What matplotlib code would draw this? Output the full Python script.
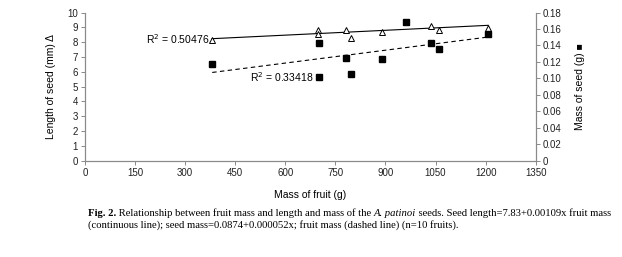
import matplotlib
matplotlib.use("Agg")
import matplotlib.pyplot as plt
import numpy as np

# data
fruit_mass = [381, 698, 698, 782, 797, 889, 963, 1037, 1061, 1208]
seed_length = [8.14, 8.8, 8.53, 8.82, 8.3, 8.68, 9.36, 9.09, 8.82, 8.93]
seed_mass_x = [381, 700, 700, 782, 797, 889, 963, 1037, 1061, 1208]
seed_mass = [0.118, 0.1426, 0.102, 0.125, 0.105, 0.124, 0.168, 0.143, 0.136, 0.1535]

x_ticks = list(range(0, 1351, 150))
left_ticks = list(range(0, 11))
right_ticks = [0, 0.02, 0.04, 0.06, 0.08, 0.10, 0.12, 0.14, 0.16, 0.18]
right_labels = ["0", "0.02", "0.04", "0.06", "0.08", "0.10", "0.12", "0.14", "0.16", "0.18"]

caption1 = [("Fig. 2.", "bold", "normal"),
            (" Relationship between fruit mass and length and mass of the ", "normal", "normal"),
            ("A. patinoi", "normal", "italic"),
            (" seeds. Seed length=7.83+0.00109x fruit mass", "normal", "normal")]
caption2 = "(continuous line); seed mass=0.0874+0.000052x; fruit mass (dashed line) (n=10 fruits)."

plt.rcParams['font.family'] = ['Liberation Sans', 'DejaVu Sans']
axis_col = "#8a8a8a"

fig = plt.figure(figsize=(6.22, 2.57), dpi=100)
ax = fig.add_axes([0.1367, 0.3747, 0.7245, 0.5766])
ax2 = ax.twinx()

# length of seed (triangles, continuous trend)
ax.plot(fruit_mass, seed_length, linestyle="none", marker="^", ms=5,
        mfc="white", mec="black", mew=0.7, zorder=3)
k1, b1 = np.polyfit(fruit_mass, seed_length, 1)
xl = np.array([min(fruit_mass), max(fruit_mass)])
ax.plot(xl, b1 + k1 * xl, color="black", lw=0.8)

# mass of seed (squares, dashed trend)
ax2.plot(seed_mass_x, seed_mass, linestyle="none", marker="s", ms=4.3,
         color="black", zorder=3)
k2, b2 = np.polyfit(seed_mass_x, seed_mass, 1)
xm = np.array([min(seed_mass_x), max(seed_mass_x)])
ax2.plot(xm, b2 + k2 * xm, color="black", lw=0.8, ls=(0, (4, 3)))

ax.text(372, b1 + k1 * 381, "R$^2$ = 0.50476", ha="right", va="center", fontsize=7.5)
ax.text(683, 5.65, "R$^2$ = 0.33418", ha="right", va="center", fontsize=7.5)

ax.set_xlim(0, 1350)
ax.set_ylim(0, 10)
ax2.set_ylim(0, 0.18)
ax.set_xticks(x_ticks)
ax.set_yticks(left_ticks)
ax2.set_yticks(right_ticks)
ax2.set_yticklabels(right_labels)

for a in (ax, ax2):
    a.spines["top"].set_visible(False)
    for s in ("left", "right", "bottom"):
        a.spines[s].set_color(axis_col)
        a.spines[s].set_linewidth(0.8)
    a.tick_params(colors=axis_col, labelcolor="#222222", labelsize=7,
                  length=3, width=0.7, pad=2)

ax.set_xlabel("Mass of fruit (g)", fontsize=7.5, labelpad=9)
ax.set_ylabel("Length of seed (mm) \u0394", fontsize=7.5, labelpad=8)
ax2.set_ylabel("Mass of seed (g) \u25a0", fontsize=7.5, labelpad=10)

# caption, built piece by piece so bold / italic runs line up
cap_font = ['Liberation Serif', 'DejaVu Serif']
cap_size = 7.7
fig.canvas.draw()
renderer = fig.canvas.get_renderer()
x0 = 0.1415
x = x0
for txt, weight, style in caption1:
    t = fig.text(x, 0.169, txt, fontsize=cap_size, family=cap_font,
                 fontweight=weight, fontstyle=style, va="center")
    bb = t.get_window_extent(renderer)
    x += bb.width / fig.bbox.width
fig.text(x0, 0.126, caption2, fontsize=cap_size, family=cap_font, va="center")

plt.savefig("out.png", dpi=100)
